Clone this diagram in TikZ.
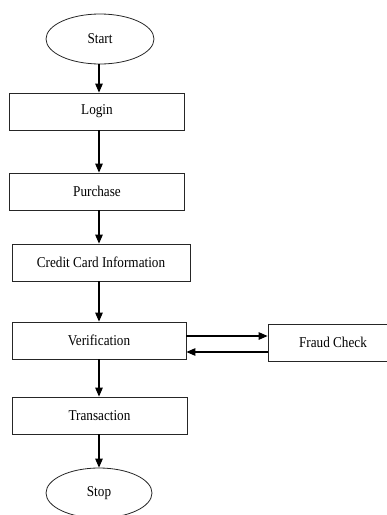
\documentclass[tikz,border=0pt]{standalone}
\usepackage{fontspec}
\setmainfont[FakeStretch=0.88]{Liberation Serif}
\usetikzlibrary{shapes.geometric,arrows.meta}
\begin{document}
\begin{tikzpicture}
        [
          x=1pt, y=-1pt,
          box/.style={draw=black!85,line width=0.8pt,minimum height=37pt,inner sep=0pt,font=\fontsize{15}{18}\selectfont},
          term/.style={ellipse,draw=black!85,line width=0.8pt,minimum width=108pt,minimum height=50pt,inner sep=0pt,font=\fontsize{15}{18}\selectfont},
          flow/.style={line width=1.2pt,-{Triangle[length=9pt,width=7.5pt]}}
        ]
        \useasboundingbox (0,0) rectangle (387,515);
        % start and stop
        \node [term] (start) at (100,39) {Start};
        \node [term,minimum width=106pt] (stop) at (99,493) {Stop};
        % steps
        \node [box,minimum width=175pt] (login) at (97,111.5) {Login};
        \node [box,minimum width=175pt] (buy) at (97,191.5) {Purchase};
        \node [box,minimum width=178pt] (card) at (101,262.5) {Credit Card Information};
        \node [box,minimum width=174pt] (verify) at (99,340.5) {Verification};
        \node [box,minimum width=175pt] (trans) at (99.5,415.5) {Transaction};
        \node [box,minimum width=130pt] (fraud) at (333,342.5) {Fraud Check};
        % main flow
        \draw [flow] (start.south -| 99,0) -- (login.north -| 99,0);
        \draw [flow] (login.south -| 99,0) -- (buy.north -| 99,0);
        \draw [flow] (buy.south -| 99,0) -- (card.north -| 99,0);
        \draw [flow] (card.south -| 99,0) -- (verify.north -| 99,0);
        \draw [flow] (verify.south -| 99,0) -- (trans.north -| 99,0);
        \draw [flow] (trans.south -| 99,0) -- (stop.north -| 99,0);
        % fraud check loop
        \draw [flow] ([yshift=4.5pt]verify.east) -- ([yshift=4.5pt]verify.east -| fraud.west);
        \draw [flow] ([yshift=-11.5pt]verify.east -| fraud.west) -- ([yshift=-11.5pt]verify.east);
      \end{tikzpicture}
\end{document}
